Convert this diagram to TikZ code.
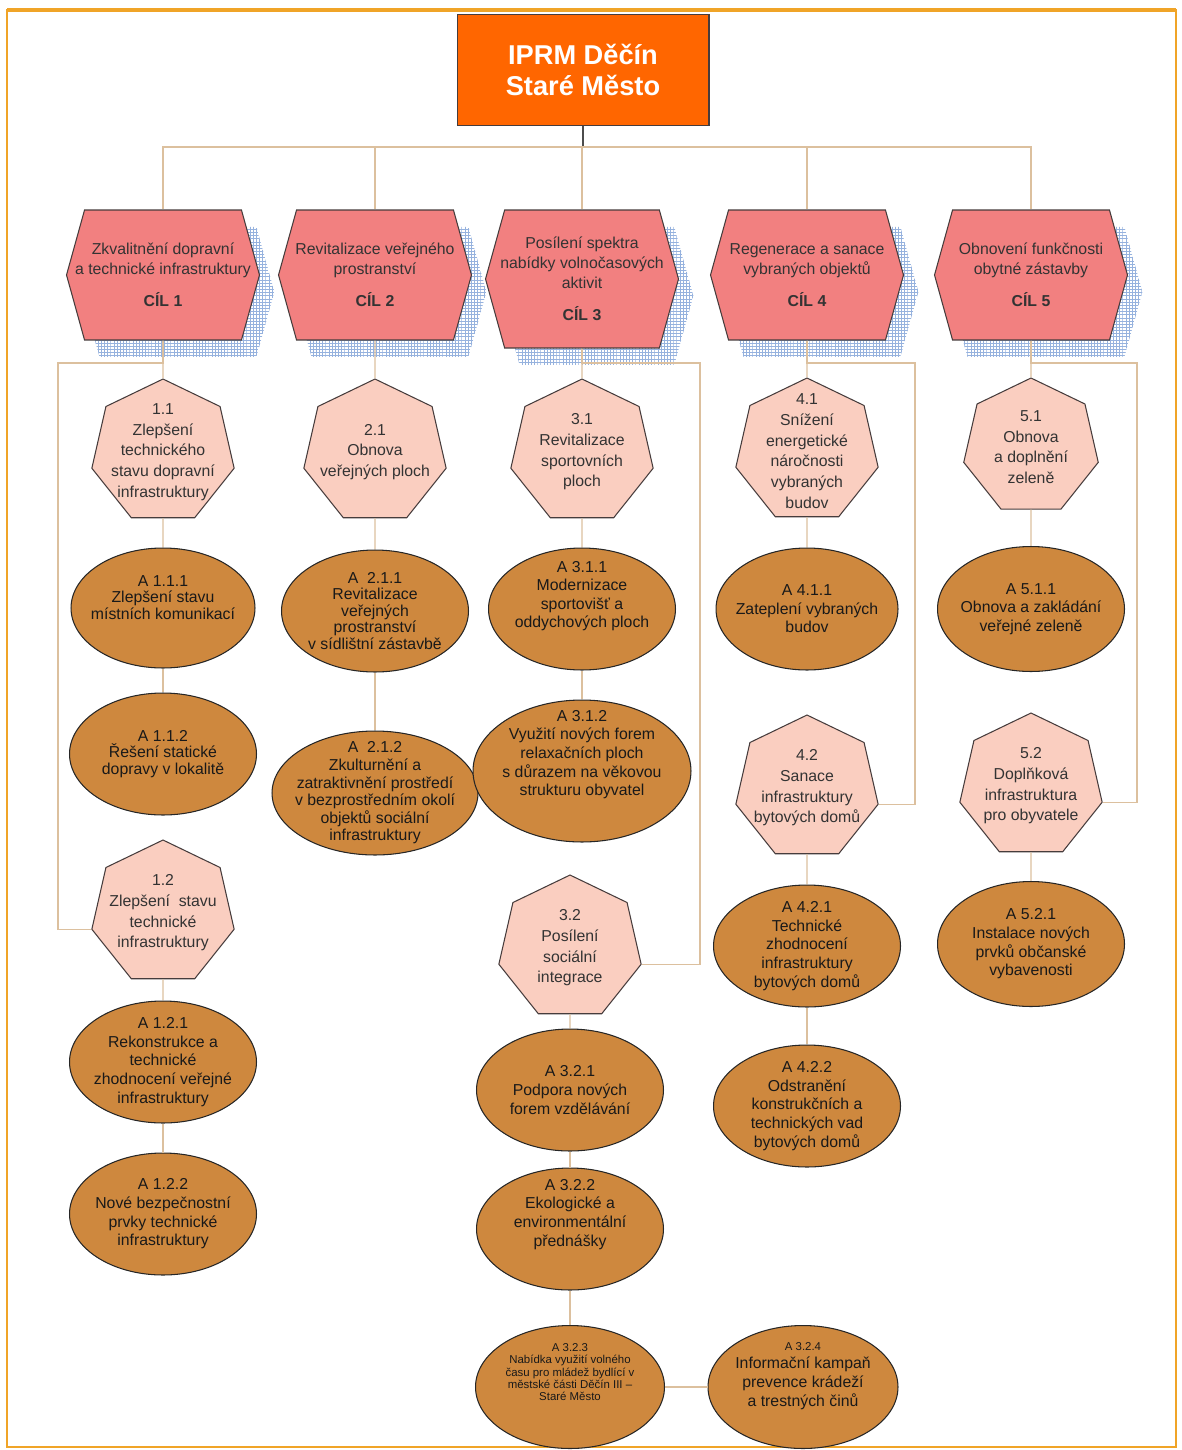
\documentclass[tikz,border=0pt]{standalone}
\usepackage{fontspec}
\setmainfont{Liberation Sans}
\usetikzlibrary{shapes.geometric,shapes.symbols,patterns}

\definecolor{rootfill}{RGB}{255,102,0}
\definecolor{goalfill}{RGB}{242,128,128}
\definecolor{subfill}{RGB}{250,206,192}
\definecolor{actfill}{RGB}{206,136,62}
\definecolor{linktan}{RGB}{220,192,158}
\definecolor{framec}{RGB}{240,164,40}
\definecolor{hatch}{RGB}{150,178,222}
\definecolor{edgec}{RGB}{70,60,60}

% fine grid for the goal shadows
\pgfdeclarepatternformonly{finegrid}{\pgfqpoint{-0.2pt}{-0.2pt}}{\pgfqpoint{2pt}{2pt}}{\pgfqpoint{1.8pt}{1.8pt}}
{
  \pgfsetlinewidth{0.35pt}
  \pgfpathmoveto{\pgfqpoint{0pt}{0pt}}
  \pgfpathlineto{\pgfqpoint{1.8pt}{0pt}}
  \pgfpathmoveto{\pgfqpoint{0pt}{0pt}}
  \pgfpathlineto{\pgfqpoint{0pt}{1.8pt}}
  \pgfusepath{stroke}
}

\begin{document}
\begin{tikzpicture}[x=0.02cm,y=-0.02cm,line width=.6pt,
    root/.style={draw=edgec,fill=rootfill,text=white,align=center,
      font=\fontsize{15.5}{18}\selectfont\bfseries,minimum width=5.04cm,minimum height=2.22cm},
    goal/.style={signal,signal to=west and east,signal pointer angle=149,draw=edgec,fill=goalfill,
      minimum width=3.86cm,minimum height=2.6cm,inner sep=-0.4cm,align=center,text=black!80,
      font=\fontsize{9}{11.3}\selectfont,
      preaction={pattern=finegrid,pattern color=hatch,transform canvas={xshift=8.5pt,yshift=-9.6pt}}},
    sub/.style={regular polygon,regular polygon sides=7,draw=edgec,fill=subfill,minimum size=2.92cm,
      inner sep=-0.4cm,align=center,text=black!80,font=\fontsize{9}{11.8}\selectfont},
    act/.style={ellipse,draw=black!85,fill=actfill,minimum width=3.74cm,minimum height=2.44cm,
      inner xsep=-0.8cm,inner ysep=-0.5cm,align=center,text=black!90,font=\fontsize{9}{10.6}\selectfont},
    acttight/.style={font=\fontsize{9}{9.4}\selectfont},
    actsmall/.style={font=\fontsize{6.5}{7}\selectfont},
    link/.style={draw=linktan},
    rootlink/.style={draw=black!70}
  ]
  \useasboundingbox (0,0) rectangle (1182,1450);

  % frame
  \draw[framec,line width=1.5pt] (7,10) rectangle (1176,1447);
  \draw[framec,line width=2.6pt] (7,10) -- (1176,10);

  % top
  \node[root] (root) at (583,70) {IPRM Děčín\\Staré Město};
  \coordinate (bus) at (583,147);

  % goals
  \node[goal] (c1) at (163,275) {Zkvalitnění dopravní\\a technické infrastruktury\\[7pt]\textbf{CÍL 1}};
  \node[goal] (c2) at (375,275) {Revitalizace veřejného\\prostranství\\[7pt]\textbf{CÍL 2}};
  \node[goal,minimum height=2.76cm] (c3) at (582,279) {Posílení spektra\\nabídky volnočasových\\aktivit\\[7pt]\textbf{CÍL 3}};
  \node[goal] (c4) at (807,275) {Regenerace a sanace\\vybraných objektů\\[7pt]\textbf{CÍL 4}};
  \node[goal] (c5) at (1031,275) {Obnovení funkčnosti\\obytné zástavby\\[7pt]\textbf{CÍL 5}};

  % measures
  \node[sub] (h11) at (163,452) {1.1\\Zlepšení\\technického\\stavu dopravní\\infrastruktury};
  \node[sub] (h21) at (375,452) {2.1\\Obnova\\veřejných ploch};
  \node[sub] (h31) at (582,452) {3.1\\Revitalizace\\sportovních\\ploch};
  \node[sub] (h41) at (807,451) {4.1\\Snížení\\energetické\\náročnosti\\vybraných\\budov};
  \node[sub,minimum size=2.76cm] (h51) at (1031,447) {5.1\\Obnova\\a doplnění\\zeleně};
  \node[sub] (h12) at (163,913) {1.2\\Zlepšení\ \ stavu\\technické\\infrastruktury};
  \node[sub] (h32) at (570,948) {3.2\\Posílení\\sociální\\integrace};
  \node[sub] (h42) at (807,788) {4.2\\Sanace\\infrastruktury\\bytových domů};
  \node[sub] (h52) at (1031,786) {5.2\\Doplňková\\infrastruktura\\pro obyvatele};

  % activities
  \node[act,acttight,minimum width=3.68cm,minimum height=2.4cm] (a111) at (163,608) {A 1.1.1\\Zlepšení stavu\\místních komunikací\\[3pt]};
  \node[act,acttight] (a112) at (163,754) {A 1.1.2\\Řešení statické\\dopravy v lokalitě};
  \node[act] (a121) at (163,1062) {A 1.2.1\\Rekonstrukce a\\technické\\zhodnocení veřejné\\infrastruktury};
  \node[act] (a122) at (163,1214) {A 1.2.2\\Nové bezpečnostní\\prvky technické\\infrastruktury};
  \node[act,acttight] (a211) at (375,611) {A\ \ 2.1.1\\Revitalizace\\veřejných\\prostranství\\v sídlištní zástavbě};
  \node[act,font=\fontsize{9}{10}\selectfont,minimum width=4.12cm,minimum height=2.48cm] (a212) at (375,793) {A\ \ 2.1.2\\Zkulturnění a\\zatraktivnění prostředí\\v bezprostředním okolí\\objektů sociální\\infrastruktury};
  \node[act] (a311) at (582,609) {A 3.1.1\\Modernizace\\sportovišť a\\oddychových ploch\\[6pt]};
  \node[act,minimum width=4.36cm,minimum height=2.84cm] (a312) at (582,771) {A 3.1.2\\Využití nových forem\\relaxačních ploch\\s důrazem na věkovou\\strukturu obyvatel\\[10pt]};
  \node[act] (a321) at (570,1090) {A 3.2.1\\Podpora nových\\forem vzdělávání};
  \node[act] (a322) at (570,1229) {A 3.2.2\\Ekologické a\\environmentální\\přednášky\\[8pt]};
  \node[act,actsmall,minimum width=3.78cm,minimum height=2.46cm] (a323) at (570,1387) {A 3.2.3\\Nabídka využití volného\\času pro mládež bydlící v\\městské části Děčín III --\\Staré Město\\[10pt]};
  \node[act,minimum width=3.8cm,minimum height=2.46cm] (a324) at (803,1387) {{\fontsize{6.5}{7}\selectfont A 3.2.4}\\Informační kampaň\\prevence krádeží\\a trestných činů\\[4pt]};
  \node[act,minimum width=3.64cm] (a411) at (807,609) {A 4.1.1\\Zateplení vybraných\\budov};
  \node[act] (a421) at (807,946) {A 4.2.1\\Technické\\zhodnocení\\infrastruktury\\bytových domů};
  \node[act] (a422) at (807,1106) {A 4.2.2\\Odstranění\\konstrukčních a\\technických vad\\bytových domů};
  \node[act,minimum height=2.5cm] (a511) at (1031,609) {A 5.1.1\\Obnova a zakládání\\veřejné zeleně};
  \node[act,minimum height=2.5cm] (a521) at (1031,944) {A 5.2.1\\Instalace nových\\prvků občanské\\vybavenosti};

  % elbow points
  \coordinate (k1) at (58,363);
  \coordinate (k3) at (700,363);
  \coordinate (k4) at (915,363);
  \coordinate (k5) at (1137,363);

  % connectors
  \draw[rootlink] (root) -- (bus);
  \foreach \g in {c1,c2,c3,c4,c5}
    \draw[link] (bus) -| (\g);
  \foreach \a/\b in {c1/h11,h11/a111,a111/a112,h12/a121,a121/a122,
                     c2/h21,h21/a211,a211/a212,
                     c3/h31,h31/a311,a311/a312,h32/a321,a321/a322,a322/a323,a323/a324,
                     c4/h41,h41/a411,h42/a421,a421/a422,
                     c5/h51,h51/a511,h52/a521}
    \draw[link] (\a) -- (\b);
  \draw[link] (c1) |- (k1) |- (h12.corner 3);
  \draw[link] (c3) |- (k3) |- (h32.corner 6);
  \draw[link] (c4) |- (k4) |- (h42.corner 6);
  \draw[link] (c5) |- (k5) |- (h52.corner 6);
\end{tikzpicture}
\end{document}
